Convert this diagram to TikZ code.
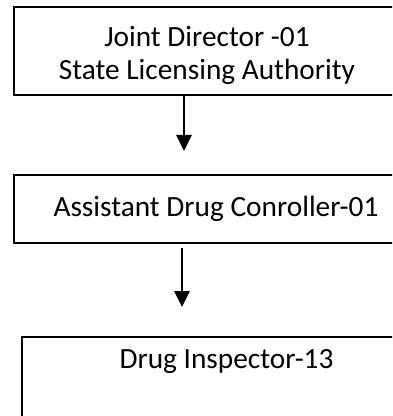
\documentclass[tikz,border=0pt]{standalone}
\usepackage{fontspec}
\setmainfont{Carlito}
\usetikzlibrary{positioning,arrows.meta}
\tikzset{
  frame/.style={draw=black,line width=1.5pt,inner sep=0pt,anchor=north west},
  txt/.style={font=\fontsize{22}{25}\selectfont,align=center,inner sep=0pt},
  flow/.style={draw=black,line width=1.6pt,-{Triangle[length=12pt,width=11.5pt]}},
}

\begin{document}
\begin{tikzpicture}[x=0.75pt,y=-0.75pt]
\clip (0,0) rectangle (392,416);
% boxes (their right sides run off the page)
\node[frame,minimum width=290.25pt,minimum height=66pt] (jdbox) at (13,6) {};
\node[frame,minimum width=303pt,minimum height=51pt] (adcbox) at (13,174) {};
\node[frame,minimum width=308.25pt,minimum height=90pt] (dibox) at (21,336) {};
\node[txt] (jd) at (207,55.5) {Joint Director -01\\State Licensing Authority};
\node[txt] (adc) at (adcbox.center) {Assistant Drug Conroller-01};
\node[txt,anchor=base] (di) at (226.5,368) {Drug Inspector-13};
% arrows
\coordinate (a1end) at (184,151);
\coordinate (a2start) at (182,248);
\coordinate (a2end) at (182,307);
\draw[flow] (jdbox.south -| a1end) -- (a1end);
\draw[flow] (a2start) -- (a2end);
\end{tikzpicture}
\end{document}
